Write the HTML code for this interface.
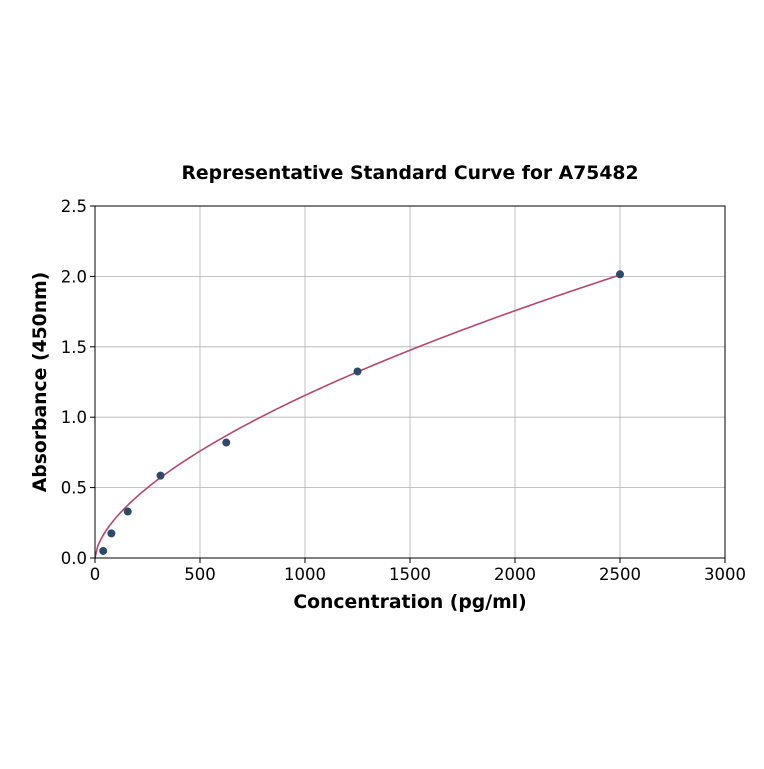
<!DOCTYPE html>
<html><head><meta charset="utf-8"><style>
body{margin:0;background:#fff;}
svg text{font-family:"DejaVu Sans","Liberation Sans",sans-serif;}
</style></head><body>
<svg id="chart" width="764" height="764">
<text x="410" y="179" text-anchor="middle" font-size="18.8" font-weight="bold">Representative Standard Curve for A75482</text>
<g id="grid"></g>
<g id="axes"></g>
<path id="curve" fill="none" stroke="#b5476b" stroke-width="1.6"/>
<g id="points"></g>
<rect x="95" y="206" width="630" height="352" fill="none" stroke="#000" stroke-width="1"/>
<text x="410" y="608" text-anchor="middle" font-size="18.8" font-weight="bold">Concentration (pg/ml)</text>
<text transform="translate(46,382) rotate(-90)" text-anchor="middle" font-size="18.8" font-weight="bold">Absorbance (450nm)</text>
</svg>
<script>
const xTicks=[0,500,1000,1500,2000,2500,3000];
const yTicks=[0,0.5,1.0,1.5,2.0,2.5];
const concentrations=[39,78,156,312,625,1250,2500];
const absorbances=[0.05,0.175,0.33,0.585,0.82,1.325,2.015];
const fitA=0.01768, fitB=0.605;
const X0=95,X1=725,Y0=558,Y1=206;
const xs=v=>X0+(v-0)/3000*(X1-X0);
const ys=v=>Y0-(v-0)/2.5*(Y0-Y1);
const NS='http://www.w3.org/2000/svg';
const grid=document.getElementById('grid'),axes=document.getElementById('axes');
function mk(tag,attrs,parent){const e=document.createElementNS(NS,tag);for(const k in attrs)e.setAttribute(k,attrs[k]);parent.appendChild(e);return e;}
xTicks.forEach(t=>{
 const x=xs(t);
 const g=mk('line',{x1:x,x2:x,y1:Y1,y2:Y0,stroke:'#b0b0b0','stroke-width':0.8},grid);
 
 
 const tk=mk('line',{x1:x,x2:x,y1:Y0,y2:Y0+5,stroke:'#000'},axes);
 
 
 const tx=mk('text',{x:x,y:Y0+22,'text-anchor':'middle','font-size':16.5},axes);
 tx.textContent=t;
 
 
});
yTicks.forEach(t=>{
 const y=ys(t);
 const g=mk('line',{x1:X0,x2:X1,y1:y,y2:y,stroke:'#b0b0b0','stroke-width':0.8},grid);
 
 
 const tk=mk('line',{x1:X0-5,x2:X0,y1:y,y2:y,stroke:'#000'},axes);
 
 
 const tx=mk('text',{x:X0-8,y:y+6,'text-anchor':'end','font-size':16.5},axes);
 tx.textContent=t.toFixed(1);
 
 
});
let d='';
for(let i=0;i<=200;i++){const c=2500*i/200;const v=fitA*Math.pow(c,fitB);d+=(i?'L':'M')+xs(c).toFixed(2)+','+ys(v).toFixed(2);}
document.getElementById('curve').setAttribute('d',d);
const pts=document.getElementById('points');
concentrations.forEach((c,i)=>{
 const p=mk('circle',{cx:xs(c),cy:ys(absorbances[i]),r:4,fill:'#2e4a6b'},pts);
 
 
});
</script>
</body></html>
